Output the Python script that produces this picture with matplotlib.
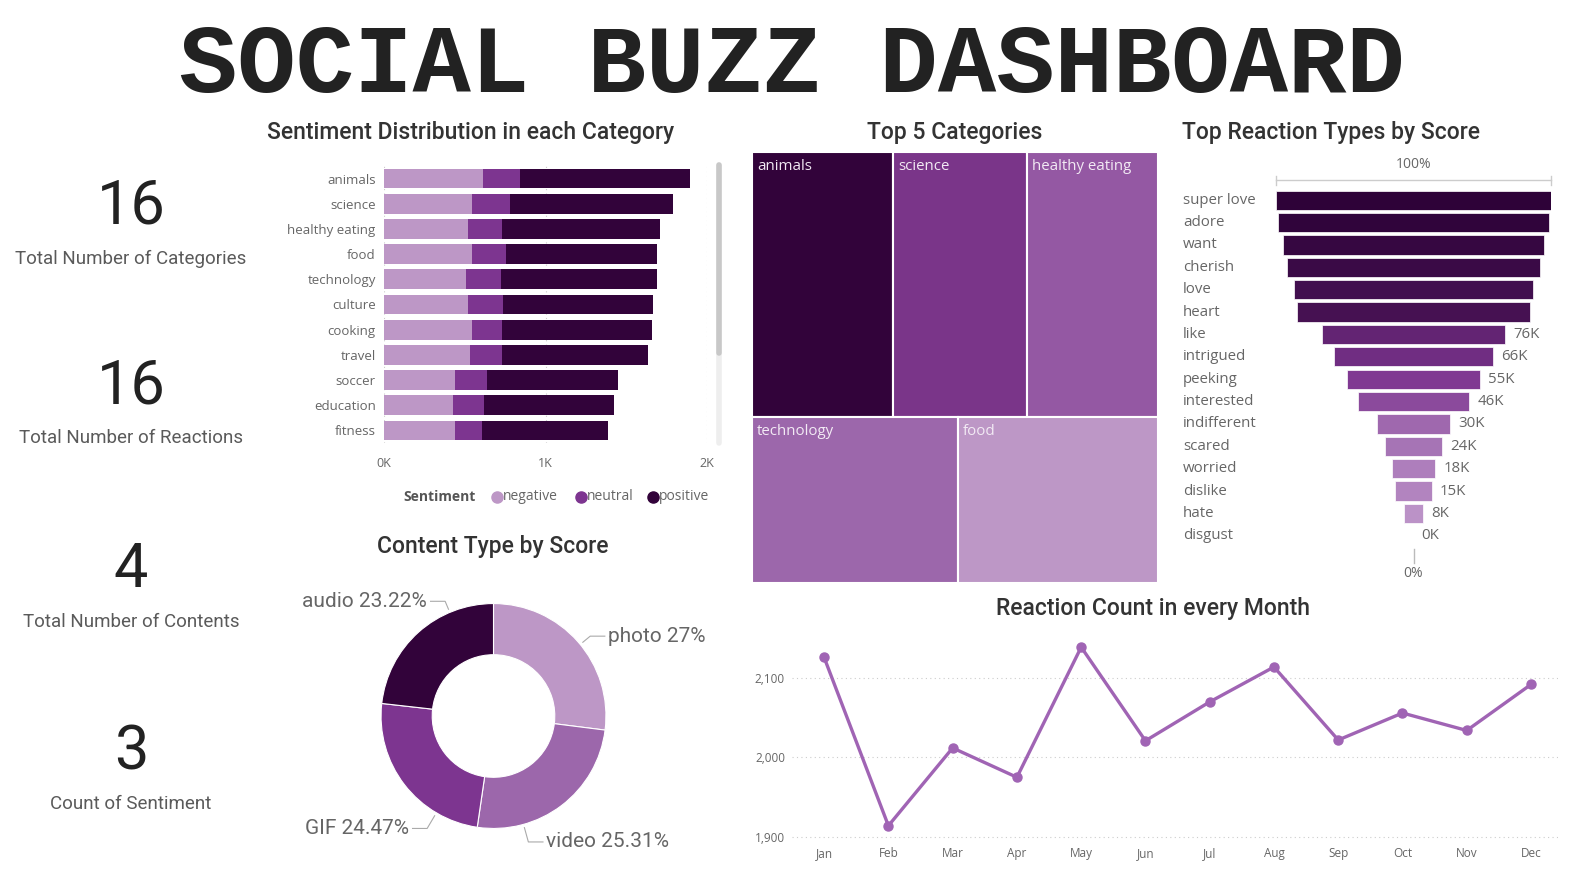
import matplotlib
matplotlib.use("Agg")
import matplotlib.pyplot as plt
from matplotlib.patches import Rectangle
from matplotlib.lines import Line2D
from matplotlib.colors import LinearSegmentedColormap
import numpy as np

W, H = 1582, 876

# ---- data ----
kpi_values = [16, 16, 4, 3]
kpi_labels = ["Total Number of Categories", "Total Number of Reactions",
              "Total Number of Contents", "Count of Sentiment"]

categories = ["animals", "science", "healthy eating", "food", "technology", "culture",
              "cooking", "travel", "soccer", "education", "fitness"]
negative = [613, 545, 520, 545, 508, 520, 545, 532, 440, 428, 440]
neutral = [229, 235, 211, 210, 216, 217, 186, 197, 198, 191, 167]
positive = [1053, 1009, 978, 935, 964, 929, 928, 906, 811, 806, 780]

top5_names = ["animals", "science", "healthy eating", "technology", "food"]
top5_scores = [74965, 71168, 69339, 68738, 66676]

reactions = ["super love", "adore", "want", "cherish", "love", "heart", "like", "intrigued",
             "peeking", "interested", "indifferent", "scared", "worried", "dislike", "hate", "disgust"]
reaction_scores = [114000, 112000, 108000, 105000, 99000, 97000, 76000, 66000,
                   55000, 46000, 30000, 24000, 18000, 15000, 8000, 0]

content_types = ["photo", "video", "GIF", "audio"]
content_share = [27.00, 25.31, 24.47, 23.22]

months = ["Jan", "Feb", "Mar", "Apr", "May", "Jun", "Jul", "Aug", "Sep", "Oct", "Nov", "Dec"]
month_counts = [2126, 1914, 2012, 1975, 2139, 2021, 2070, 2114, 2022, 2056, 2034, 2092]

# colours
c_dark = "#32033a"
c_mid = "#7d3590"
c_med = "#9c67ab"
c_light = "#bd97c6"
grey = "#666666"
title_font = ["Roboto", "DejaVu Sans"]
small_font = ["Open Sans", "DejaVu Sans"]
TSIZE = 16.5


def box(x0, y0, x1, y1):
    return [x0 / W, 1 - y1 / H, (x1 - x0) / W, (y1 - y0) / H]


def ftext(x, y, s, **kw):
    fig.text(x / W, 1 - y / H, s, **kw)


fig = plt.figure(figsize=(W / 100, H / 100), dpi=100)
fig.patch.set_facecolor("white")

ftext(792, 67, "SOCIAL BUZZ DASHBOARD", family=["Liberation Mono", "DejaVu Sans Mono"],
      fontweight="bold", fontsize=70, ha="center", va="center", color="#222222")

# ---- KPI cards ----
kpi_y = [207, 386, 570, 752]
for v, lab, y in zip(kpi_values, kpi_labels, kpi_y):
    ftext(131, y, str(v), family=title_font, fontsize=44, ha="center", va="center", color="#222222")
    ftext(131, y + 52, lab, family=title_font, fontsize=13.5, ha="center", va="center", color="#5a5a5a")

# ---- sentiment stacked bars ----
ftext(471, 132, "Sentiment Distribution in each Category", family=title_font, fontsize=TSIZE,
      fontweight="medium", ha="center", va="center", color="#333333")
ax = fig.add_axes(box(384, 166, 707, 443))
y = np.arange(len(categories))
neg = np.array(negative)
neu = np.array(neutral)
pos = np.array(positive)
ax.barh(y, neg, height=0.78, color=c_light)
ax.barh(y, neu, left=neg, height=0.78, color=c_mid)
ax.barh(y, pos, left=neg + neu, height=0.78, color=c_dark)
ax.set_ylim(len(categories) - 0.5, -0.5)
ax.set_xlim(0, 2000)
ax.set_xticks([0, 1000, 2000])
ax.set_xticklabels(["0K", "1K", "2K"])
ax.set_yticks(y)
ax.set_yticklabels(categories)
for t in ax.get_yticklabels():
    t.set_family(small_font)
    t.set_fontsize(9.5)
    t.set_color(grey)
for t in ax.get_xticklabels():
    t.set_family(small_font)
    t.set_fontsize(9)
    t.set_color(grey)
ax.tick_params(axis="y", length=0, pad=6)
ax.tick_params(axis="x", length=0, pad=10)
ax.xaxis.grid(True, linestyle=(0, (1, 3)), color="#cccccc", linewidth=0.8)
ax.set_axisbelow(True)
for s in ax.spines.values():
    s.set_visible(False)

# scrollbar
fig.add_artist(Line2D([719 / W, 719 / W], [1 - 165 / H, 1 - 443 / H], color="#eeeeee",
                      linewidth=4, solid_capstyle="round", transform=fig.transFigure))
fig.add_artist(Line2D([719 / W, 719 / W], [1 - 165 / H, 1 - 353 / H], color="#c8c8c8",
                      linewidth=4, solid_capstyle="round", transform=fig.transFigure))

# legend
ftext(403, 497, "Sentiment", family=small_font, fontsize=10, fontweight="bold", va="center", color="#555555")
leg_x = [497, 581, 653]
for lx, name, col in zip(leg_x, ["negative", "neutral", "positive"], [c_light, c_mid, c_dark]):
    fig.add_artist(Line2D([lx / W], [1 - 497 / H], marker="o", markersize=8, color=col,
                          transform=fig.transFigure))
    ftext(lx + 6, 497, name, family=small_font, fontsize=10, va="center", color=grey)

# ---- treemap ----
ftext(955, 132, "Top 5 Categories", family=title_font, fontsize=TSIZE, fontweight="medium",
      ha="center", va="center", color="#333333")
axt = fig.add_axes(box(752, 152, 1158, 583))
axt.set_xlim(0, 1)
axt.set_ylim(1, 0)
axt.axis("off")
tree_colors = [c_dark, "#7a3589", "#9458a3", c_med, c_light]
rows = [[0, 1, 2], [3, 4]]
total = sum(top5_scores)
ytop = 0.0
for row in rows:
    rsum = sum(top5_scores[i] for i in row)
    rh = rsum / total
    xl = 0.0
    for i in row:
        rw = top5_scores[i] / rsum
        axt.add_patch(Rectangle((xl, ytop), rw, rh, facecolor=tree_colors[i],
                                edgecolor="white", linewidth=1.5))
        axt.text(xl + 0.012, ytop + 0.016, top5_names[i], family=small_font, fontsize=10.8,
                 color="#f2eaf4", ha="left", va="top")
        xl += rw
    ytop += rh

# ---- funnel ----
ftext(1331, 132, "Top Reaction Types by Score", family=title_font, fontsize=TSIZE, fontweight="medium",
      ha="center", va="center", color="#333333")
axf = fig.add_axes(box(1276, 189, 1551, 547))
vals = np.array(reaction_scores, dtype=float)
vmax = vals.max()
cmap = LinearSegmentedColormap.from_list("pp", ["#c4a0d0", "#7d3590", "#2e0238"])
fcolors = [cmap(v / vmax) for v in vals]
fy = np.arange(len(reactions))
axf.barh(fy, vals, left=-vals / 2, height=0.86, color=fcolors, edgecolor="white", linewidth=0.5)
axf.set_xlim(-vmax / 2, vmax / 2)
axf.set_ylim(len(reactions) - 0.5, -0.5)
axf.axis("off")
ytr = axf.get_yaxis_transform()
for i, name in enumerate(reactions):
    axf.text(-0.338, i, name, transform=ytr, family=small_font, fontsize=10.8, color=grey,
             ha="left", va="center")
    if vals[i] <= 0.7 * vmax:
        axf.text(vals[i] / 2 + vmax * 0.03, i, f"{round(vals[i] / 1000):.0f}K", family=small_font,
                 fontsize=10.8, color=grey, ha="left", va="center")
axf.plot([-vmax / 2, vmax / 2], [-0.9, -0.9], color="#cccccc", linewidth=1, clip_on=False)
axf.plot([-vmax / 2, -vmax / 2], [-1.1, -0.7], color="#cccccc", linewidth=1, clip_on=False)
axf.plot([vmax / 2, vmax / 2], [-1.1, -0.7], color="#cccccc", linewidth=1, clip_on=False)
axf.text(0, -1.6, "100%", family=small_font, fontsize=10, color=grey, ha="center", va="center")
axf.plot([0, 0], [15.6, 16.2], color="#bbbbbb", linewidth=1, clip_on=False)
axf.text(0, 16.7, "0%", family=small_font, fontsize=10, color=grey, ha="center", va="center")

# ---- donut ----
ftext(493, 547, "Content Type by Score", family=title_font, fontsize=TSIZE, fontweight="medium",
      ha="center", va="center", color="#333333")
axp = fig.add_axes(box(363.5, 586, 623.5, 846))
axp.pie(content_share, colors=[c_light, c_med, c_mid, c_dark], startangle=90,
        counterclock=False, radius=1,
        wedgeprops=dict(width=0.455, edgecolor="white", linewidth=0.8))
axp.set_xlim(-1.156, 1.156)
axp.set_ylim(-1.156, 1.156)
axp.set_aspect("equal")
# label anchor positions in pie units
lab_pos = [(1.02, 0.71, "left"), (0.47, -1.12, "left"), (-0.75, -1.0, "right"), (-0.59, 1.02, "right")]
for name, share, (tx, ty, ha) in zip(content_types, content_share, lab_pos):
    sgn = -1 if ha == "left" else 1
    ex = tx + sgn * 0.03
    ex2 = ex + sgn * 0.13
    r = np.hypot(ex2, ty)
    wx, wy = 1.03 * ex2 / r, 1.03 * ty / r
    axp.plot([ex, ex2, wx], [ty, ty, wy], color="#aaaaaa", linewidth=0.8, clip_on=False)
    axp.text(tx, ty, f"{name} {share:g}%", family=title_font, fontsize=15, color=grey,
             ha=ha, va="center", clip_on=False)

# ---- monthly line ----
ftext(1153, 608, "Reaction Count in every Month", family=title_font, fontsize=TSIZE, fontweight="medium",
      ha="center", va="center", color="#333333")
axl = fig.add_axes(box(792, 640, 1558, 840))
xm = np.arange(len(months))
axl.plot(xm, month_counts, color="#a064b4", linewidth=2.4, marker="o", markersize=6.5)
axl.set_xlim(-0.5, 11.42)
axl.set_ylim(1896, 2148)
axl.set_yticks([1900, 2000, 2100])
axl.set_yticklabels([f"{v:,}" for v in [1900, 2000, 2100]])
axl.set_xticks(xm)
axl.set_xticklabels(months)
for t in axl.get_xticklabels() + axl.get_yticklabels():
    t.set_family(small_font)
    t.set_fontsize(8.5)
    t.set_color(grey)
axl.tick_params(length=0, pad=5)
axl.yaxis.grid(True, linestyle=(0, (1, 3)), color="#cccccc", linewidth=0.8)
axl.set_axisbelow(True)
for s in axl.spines.values():
    s.set_visible(False)

fig.savefig("out.png", dpi=100)
